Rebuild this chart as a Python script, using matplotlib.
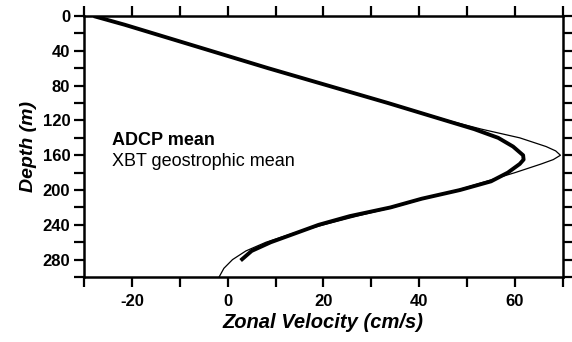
import numpy as np
import matplotlib
matplotlib.use("Agg")
import matplotlib.pyplot as plt
from matplotlib.ticker import MultipleLocator

plt.rcParams['font.family'] = ['Liberation Sans', 'DejaVu Sans']
plt.rcParams['axes.unicode_minus'] = False

# -----------------------------
# Mean zonal velocity profiles (cm/s) vs depth (m)
# -----------------------------
adcp_depth = [0, 10, 20, 40, 60, 80, 100, 120, 130, 140, 150, 160, 165, 170,
              180, 190, 200, 210, 220, 230, 240, 250, 260, 270, 281]
adcp_vel = [-28, -21.5, -15.5, -3.5, 8.5, 21, 33.5, 45.5, 51.5, 56.5, 59.6, 61.7,
            61.8, 61, 58.5, 55, 48.5, 40.5, 34, 25.5, 19, 14, 9, 5, 2.7]

xbt_depth = [0, 20, 40, 60, 80, 100, 120, 130, 140, 150, 155, 160, 165, 170,
             180, 190, 200, 210, 220, 230, 240, 250, 260, 270, 280, 290, 300]
xbt_vel = [-28, -15.5, -3.5, 8.5, 21, 33.5, 46, 53, 61, 66.5, 68.5, 69.5, 68,
           65.5, 60, 54, 48, 41, 34.5, 27, 20, 13.5, 8, 3.8, 1, -0.8, -1.8]

x_ticks = [-20, 0, 20, 40, 60]
y_ticks = [0, 40, 80, 120, 160, 200, 240, 280]

fig = plt.figure(figsize=(5.72, 3.42), dpi=100)
ax = fig.add_axes([0.147, 0.19, 0.837, 0.763])

ax.plot(adcp_vel, adcp_depth, color='black', lw=2.8, solid_capstyle='butt')
ax.plot(xbt_vel, xbt_depth, color='black', lw=0.9)

ax.set_xlim(-30, 70)
ax.set_ylim(300, 0)

ax.set_xticks(x_ticks)
ax.set_yticks(y_ticks)
ax.xaxis.set_minor_locator(MultipleLocator(10))
ax.yaxis.set_minor_locator(MultipleLocator(20))

ax.tick_params(which='both', direction='out', length=7, width=1.6,
               top=True, right=True, labeltop=False, labelright=False)
ax.tick_params(axis='both', which='major', labelsize=12)
ax.tick_params(axis='x', which='major', pad=5)
ax.tick_params(axis='y', which='major', pad=3)
for lab in ax.get_xticklabels() + ax.get_yticklabels():
    lab.set_fontweight('bold')

for s in ax.spines.values():
    s.set_linewidth(1.8)

ax.set_xlabel('Zonal Velocity (cm/s)', fontsize=14.5, style='italic',
              fontweight='bold', labelpad=3)
ax.set_ylabel('Depth (m)', fontsize=14, style='italic',
              fontweight='bold', labelpad=4)

# Line key drawn as plain text
ax.text(-24.2, 148.5, 'ADCP mean', fontsize=13, fontweight='bold', va='baseline')
ax.text(-24.2, 172.5, 'XBT geostrophic mean', fontsize=13, va='baseline')

fig.savefig('out.png', dpi=100)
